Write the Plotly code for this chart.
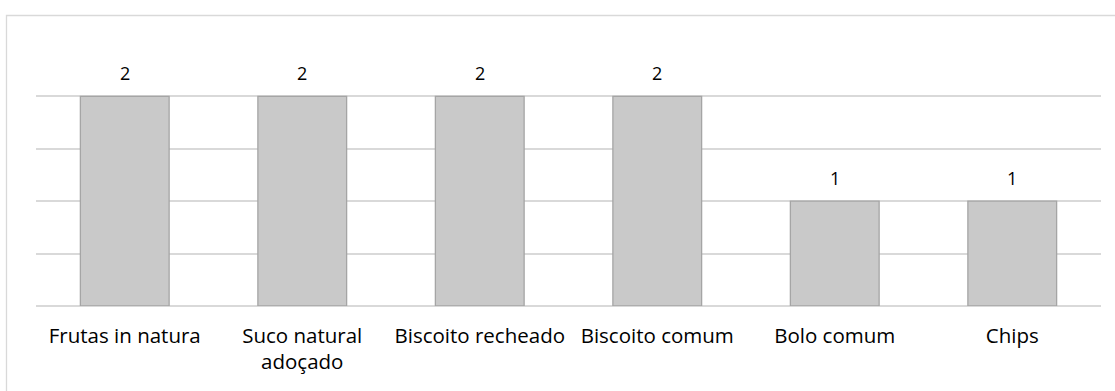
import plotly.graph_objects as go

categories = ["Frutas in natura", "Suco natural<br>adoçado", "Biscoito recheado",
              "Biscoito comum", "Bolo comum", "Chips"]
values = [2, 2, 2, 2, 1, 1]

fig = go.Figure()
fig.add_trace(go.Bar(
    x=categories, y=values,
    marker=dict(color="#c9c9c9", line=dict(color="#a5a5a5", width=1.3)),
    width=0.5,
    hoverinfo="skip",
))

for c, v in zip(categories, values):
    fig.add_annotation(x=c, y=v, text=str(v), showarrow=False,
                       yanchor="bottom", yshift=9,
                       font=dict(family="Open Sans", size=18, color="#000000"))

W, H = 1115, 391
L, R, T, B = 36, 1101, 44, 306
fig.update_layout(
    width=W, height=H,
    margin=dict(l=L, r=W - R, t=T, b=H - B, pad=0),
    paper_bgcolor="white", plot_bgcolor="white",
    showlegend=False,
    font=dict(family="Open Sans", size=20.5, color="#000000"),
    xaxis=dict(showgrid=False, showline=False, ticks="", zeroline=False,
               tickfont=dict(size=20.5), ticklabelstandoff=15),
    yaxis=dict(range=[0, 2.5], dtick=0.5, showticklabels=False, ticks="",
               showgrid=True, gridcolor="#d9d9d9", gridwidth=1.5,
               zeroline=True, zerolinecolor="#d9d9d9", zerolinewidth=1.5,
               showline=False),
)

pw, ph = R - L, B - T
fig.add_shape(type="rect", xref="paper", yref="paper",
              x0=(6.5 - L) / pw, x1=(1130 - L) / pw,
              y0=(B - 420) / ph, y1=(B - 15.5) / ph,
              line=dict(color="#d9d9d9", width=1.3), fillcolor="rgba(0,0,0,0)",
              layer="below")

fig.write_html("out.html")
